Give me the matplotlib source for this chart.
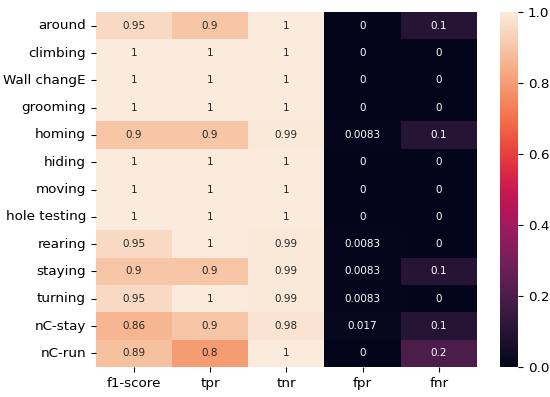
import matplotlib
matplotlib.use("Agg")
import matplotlib.pyplot as plt
import seaborn as sns
import numpy as np

behaviours = ["around", "climbing", "Wall changE", "grooming", "homing", "hiding",
              "moving", "hole testing", "rearing", "staying", "turning", "nC-stay", "nC-run"]
metrics = ["f1-score", "tpr", "tnr", "fpr", "fnr"]

f1 = [0.95, 1, 1, 1, 0.9, 1, 1, 1, 0.95, 0.9, 0.95, 0.86, 0.89]
tpr = [0.9, 1, 1, 1, 0.9, 1, 1, 1, 1, 0.9, 1, 0.9, 0.8]
tnr = [1, 1, 1, 1, 0.99, 1, 1, 1, 0.99, 0.99, 0.99, 0.98, 1]
fpr = [0, 0, 0, 0, 0.0083, 0, 0, 0, 0.0083, 0.0083, 0.0083, 0.017, 0]
fnr = [0.1, 0, 0, 0, 0.1, 0, 0, 0, 0, 0.1, 0, 0.1, 0.2]

data = np.array([f1, tpr, tnr, fpr, fnr]).T

fig = plt.figure(figsize=(5.5, 3.97), dpi=100)
ax = fig.add_axes([0.174, 0.0756, 0.693, 0.894])
cax = fig.add_axes([0.909, 0.0756, 0.033, 0.894])

sns.heatmap(data, annot=True, fmt=".2g", cmap="rocket", vmin=0, vmax=1,
            xticklabels=metrics, yticklabels=behaviours, ax=ax, cbar_ax=cax,
            annot_kws={"fontsize": 7.5})
ax.tick_params(axis="both", labelsize=9.7)
ax.set_yticklabels(behaviours, rotation=0)
cax.tick_params(labelsize=9.7)

fig.savefig("out.png", dpi=100)
